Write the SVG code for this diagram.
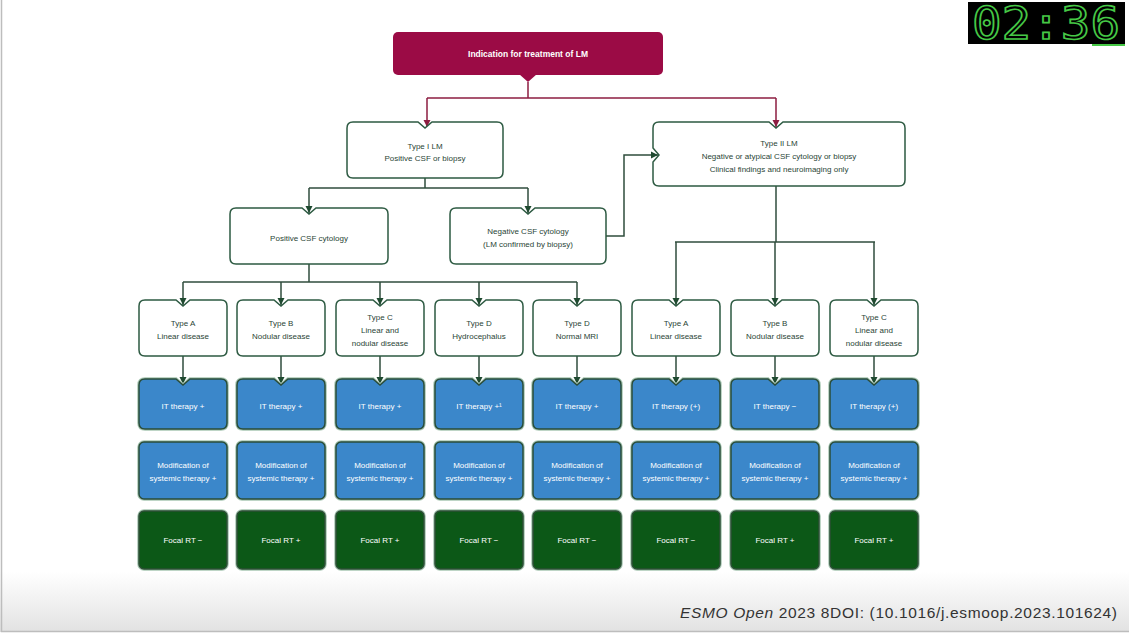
<svg xmlns="http://www.w3.org/2000/svg" xmlns:xlink="http://www.w3.org/1999/xlink" width="1129" height="635" viewBox="0 0 1129 635">
<style>
.t{font-family:"Liberation Sans",Arial,sans-serif;font-size:8px;fill:#2a4536;text-anchor:middle}
.w{font-family:"Liberation Sans",Arial,sans-serif;font-size:8px;fill:#ffffff;text-anchor:middle}
.wb{font-family:"Liberation Sans",Arial,sans-serif;font-size:8.5px;font-weight:bold;fill:#ffffff;text-anchor:middle}
.wh{fill:#ffffff;stroke:#2d5a42;stroke-width:1.5}
.bl{fill:#3b87ca;stroke:#2a4d3a;stroke-width:1.5}
.gr{fill:#0c5817;stroke:#2d4f36;stroke-width:1.5}
.halo{fill:none;stroke:#a9c7b4;stroke-width:3.5}
.c{fill:none;stroke:#2f4d3c;stroke-width:1.5}
.m{fill:none;stroke:#8c1c40;stroke-width:1.5}
</style>
<defs>
<linearGradient id="bot" x1="0" y1="0" x2="0" y2="1">
<stop offset="0" stop-color="#ffffff"/>
<stop offset="1" stop-color="#e2e2e2"/>
</linearGradient>
<marker id="ag" viewBox="0 0 10 10" refX="10" refY="5" markerWidth="5" markerHeight="5" orient="auto" markerUnits="strokeWidth">
<path d="M0,0 L10,5 L0,10 Z" fill="#1f4a30"/>
</marker>
<marker id="am" viewBox="0 0 10 10" refX="10" refY="5" markerWidth="5" markerHeight="5" orient="auto" markerUnits="strokeWidth">
<path d="M0,0 L10,5 L0,10 Z" fill="#8c1c40"/>
</marker>
<path id="n56" d="M6,0 H37 L44,6 L51,0 H82 Q88,0 88,6 V50 Q88,56 82,56 H6 Q0,56 0,50 V6 Q0,0 6,0 Z"/>
<path id="n50" d="M6,0 H37 L44,6 L51,0 H82 Q88,0 88,6 V44 Q88,50 82,50 H6 Q0,50 0,44 V6 Q0,0 6,0 Z"/>
<rect id="r57" x="0" y="0" width="88" height="57" rx="5"/>
<rect id="r58" x="0" y="0" width="88" height="58" rx="5"/>
</defs>

<rect x="0" y="0" width="1129" height="635" fill="#ffffff"/>
<rect x="0" y="572" width="1129" height="60" fill="url(#bot)"/>
<path d="M1.5,0 V631.5 H1129" fill="none" stroke="#bdbdbd" stroke-width="1.5"/>

<g id="timer">
<rect x="968" y="2" width="157" height="42" fill="#000000"/>
<text x="1046" y="39" font-family="DejaVu Sans Mono, monospace" font-size="44" fill="none" stroke="#46c846" stroke-width="1.6" text-anchor="middle" textLength="148" lengthAdjust="spacingAndGlyphs">02:36</text>
<line x1="1092" y1="45" x2="1125" y2="45" stroke="#46c846" stroke-width="2"/>
</g>

<g id="connectors">
<path class="m" d="M528,82 V98"/>
<path class="m" d="M427,98 H776"/>
<path class="m" d="M427,98 V127" marker-end="url(#am)"/>
<path class="m" d="M776,98 V127" marker-end="url(#am)"/>
<path class="c" d="M425,178 V188"/>
<path class="c" d="M309,188 H528"/>
<path class="c" d="M309,188 V213" marker-end="url(#ag)"/>
<path class="c" d="M528,188 V213" marker-end="url(#ag)"/>
<path class="c" d="M606,236 H624 V155 H658" marker-end="url(#ag)"/>
<path class="c" d="M776,186 V242"/>
<path class="c" d="M675,242 H875"/>
<path class="c" d="M676,242 V305" marker-end="url(#ag)"/>
<path class="c" d="M775,242 V305" marker-end="url(#ag)"/>
<path class="c" d="M874,242 V305" marker-end="url(#ag)"/>
<path class="c" d="M309,264 V282"/>
<path class="c" d="M183,282 H577"/>
<path class="c" d="M183,282 V305" marker-end="url(#ag)"/>
<path class="c" d="M281,282 V305" marker-end="url(#ag)"/>
<path class="c" d="M380,282 V305" marker-end="url(#ag)"/>
<path class="c" d="M479,282 V305" marker-end="url(#ag)"/>
<path class="c" d="M577,282 V305" marker-end="url(#ag)"/>
<path class="c" d="M183,356 V384" marker-end="url(#ag)"/>
<path class="c" d="M281,356 V384" marker-end="url(#ag)"/>
<path class="c" d="M380,356 V384" marker-end="url(#ag)"/>
<path class="c" d="M479,356 V384" marker-end="url(#ag)"/>
<path class="c" d="M577,356 V384" marker-end="url(#ag)"/>
<path class="c" d="M676,356 V384" marker-end="url(#ag)"/>
<path class="c" d="M775,356 V384" marker-end="url(#ag)"/>
<path class="c" d="M874,356 V384" marker-end="url(#ag)"/>
</g>

<g id="indication">
<rect x="393" y="32" width="270" height="43" rx="5" fill="#9b0b45"/>
<path d="M519,74 L528,82 L537,74 Z" fill="#9b0b45"/>
<text class="wb" x="528" y="57">Indication for treatment of LM</text>
</g>

<g id="type1">
<path class="wh" d="M353,122 H418 L425,128 L432,122 H497 Q503,122 503,128 V172 Q503,178 497,178 H353 Q347,178 347,172 V128 Q347,122 353,122 Z"/>
<text class="t" x="425" y="149">Type I LM</text>
<text class="t" x="425" y="161">Positive CSF or biopsy</text>
</g>

<g id="type2">
<path class="wh" d="M659,122 H769 L776,128 L783,122 H899 Q905,122 905,128 V180 Q905,186 899,186 H659 Q653,186 653,180 V162 L659,155 L653,148 V128 Q653,122 659,122 Z"/>
<text class="t" x="779" y="146">Type II LM</text>
<text class="t" x="779" y="159">Negative or atypical CSF cytology or biopsy</text>
<text class="t" x="779" y="172">Clinical findings and neuroimaging only</text>
</g>

<g id="positive">
<path class="wh" d="M236,208 H302 L309,214 L316,208 H382 Q388,208 388,214 V258 Q388,264 382,264 H236 Q230,264 230,258 V214 Q230,208 236,208 Z"/>
<text class="t" x="309" y="241">Positive CSF cytology</text>
</g>

<g id="negative">
<path class="wh" d="M456,208 H521 L528,214 L535,208 H600 Q606,208 606,214 V258 Q606,264 600,264 H456 Q450,264 450,258 V214 Q450,208 456,208 Z"/>
<text class="t" x="528" y="234">Negative CSF cytology</text>
<text class="t" x="528" y="247">(LM confirmed by biopsy)</text>
</g>

<g id="typeA1"><use href="#n56" x="139" y="300" class="wh"/><text class="t" x="183" y="326">Type A</text><text class="t" x="183" y="339">Linear disease</text></g>
<g id="typeB1"><use href="#n56" x="237" y="300" class="wh"/><text class="t" x="281" y="326">Type B</text><text class="t" x="281" y="339">Nodular disease</text></g>
<g id="typeC1"><use href="#n56" x="336" y="300" class="wh"/><text class="t" x="380" y="320">Type C</text><text class="t" x="380" y="333">Linear and</text><text class="t" x="380" y="346">nodular disease</text></g>
<g id="typeD1"><use href="#n56" x="435" y="300" class="wh"/><text class="t" x="479" y="326">Type D</text><text class="t" x="479" y="339">Hydrocephalus</text></g>
<g id="typeD2"><use href="#n56" x="533" y="300" class="wh"/><text class="t" x="577" y="326">Type D</text><text class="t" x="577" y="339">Normal MRI</text></g>
<g id="typeA2"><use href="#n56" x="632" y="300" class="wh"/><text class="t" x="676" y="326">Type A</text><text class="t" x="676" y="339">Linear disease</text></g>
<g id="typeB2"><use href="#n56" x="731" y="300" class="wh"/><text class="t" x="775" y="326">Type B</text><text class="t" x="775" y="339">Nodular disease</text></g>
<g id="typeC2"><use href="#n56" x="830" y="300" class="wh"/><text class="t" x="874" y="320">Type C</text><text class="t" x="874" y="333">Linear and</text><text class="t" x="874" y="346">nodular disease</text></g>

<g id="it1"><use href="#n50" x="139" y="379" class="halo"/><use href="#n50" x="139" y="379" class="bl"/><text class="w" x="183" y="409">IT therapy +</text></g>
<g id="it2"><use href="#n50" x="237" y="379" class="halo"/><use href="#n50" x="237" y="379" class="bl"/><text class="w" x="281" y="409">IT therapy +</text></g>
<g id="it3"><use href="#n50" x="336" y="379" class="halo"/><use href="#n50" x="336" y="379" class="bl"/><text class="w" x="380" y="409">IT therapy +</text></g>
<g id="it4"><use href="#n50" x="435" y="379" class="halo"/><use href="#n50" x="435" y="379" class="bl"/><text class="w" x="479" y="409">IT therapy +¹</text></g>
<g id="it5"><use href="#n50" x="533" y="379" class="halo"/><use href="#n50" x="533" y="379" class="bl"/><text class="w" x="577" y="409">IT therapy +</text></g>
<g id="it6"><use href="#n50" x="632" y="379" class="halo"/><use href="#n50" x="632" y="379" class="bl"/><text class="w" x="676" y="409">IT therapy (+)</text></g>
<g id="it7"><use href="#n50" x="731" y="379" class="halo"/><use href="#n50" x="731" y="379" class="bl"/><text class="w" x="775" y="409">IT therapy −</text></g>
<g id="it8"><use href="#n50" x="830" y="379" class="halo"/><use href="#n50" x="830" y="379" class="bl"/><text class="w" x="874" y="409">IT therapy (+)</text></g>

<g id="mod1"><use href="#r57" x="139" y="442" class="halo"/><use href="#r57" x="139" y="442" class="bl"/><text class="w" x="183" y="468">Modification of</text><text class="w" x="183" y="481">systemic therapy +</text></g>
<g id="mod2"><use href="#r57" x="237" y="442" class="halo"/><use href="#r57" x="237" y="442" class="bl"/><text class="w" x="281" y="468">Modification of</text><text class="w" x="281" y="481">systemic therapy +</text></g>
<g id="mod3"><use href="#r57" x="336" y="442" class="halo"/><use href="#r57" x="336" y="442" class="bl"/><text class="w" x="380" y="468">Modification of</text><text class="w" x="380" y="481">systemic therapy +</text></g>
<g id="mod4"><use href="#r57" x="435" y="442" class="halo"/><use href="#r57" x="435" y="442" class="bl"/><text class="w" x="479" y="468">Modification of</text><text class="w" x="479" y="481">systemic therapy +</text></g>
<g id="mod5"><use href="#r57" x="533" y="442" class="halo"/><use href="#r57" x="533" y="442" class="bl"/><text class="w" x="577" y="468">Modification of</text><text class="w" x="577" y="481">systemic therapy +</text></g>
<g id="mod6"><use href="#r57" x="632" y="442" class="halo"/><use href="#r57" x="632" y="442" class="bl"/><text class="w" x="676" y="468">Modification of</text><text class="w" x="676" y="481">systemic therapy +</text></g>
<g id="mod7"><use href="#r57" x="731" y="442" class="halo"/><use href="#r57" x="731" y="442" class="bl"/><text class="w" x="775" y="468">Modification of</text><text class="w" x="775" y="481">systemic therapy +</text></g>
<g id="mod8"><use href="#r57" x="830" y="442" class="halo"/><use href="#r57" x="830" y="442" class="bl"/><text class="w" x="874" y="468">Modification of</text><text class="w" x="874" y="481">systemic therapy +</text></g>

<g id="rt1"><use href="#r58" x="139" y="511" class="halo"/><use href="#r58" x="139" y="511" class="gr"/><text class="w" x="183" y="543">Focal RT −</text></g>
<g id="rt2"><use href="#r58" x="237" y="511" class="halo"/><use href="#r58" x="237" y="511" class="gr"/><text class="w" x="281" y="543">Focal RT +</text></g>
<g id="rt3"><use href="#r58" x="336" y="511" class="halo"/><use href="#r58" x="336" y="511" class="gr"/><text class="w" x="380" y="543">Focal RT +</text></g>
<g id="rt4"><use href="#r58" x="435" y="511" class="halo"/><use href="#r58" x="435" y="511" class="gr"/><text class="w" x="479" y="543">Focal RT −</text></g>
<g id="rt5"><use href="#r58" x="533" y="511" class="halo"/><use href="#r58" x="533" y="511" class="gr"/><text class="w" x="577" y="543">Focal RT −</text></g>
<g id="rt6"><use href="#r58" x="632" y="511" class="halo"/><use href="#r58" x="632" y="511" class="gr"/><text class="w" x="676" y="543">Focal RT −</text></g>
<g id="rt7"><use href="#r58" x="731" y="511" class="halo"/><use href="#r58" x="731" y="511" class="gr"/><text class="w" x="775" y="543">Focal RT +</text></g>
<g id="rt8"><use href="#r58" x="830" y="511" class="halo"/><use href="#r58" x="830" y="511" class="gr"/><text class="w" x="874" y="543">Focal RT +</text></g>

<text x="680" y="618" font-family="Liberation Sans, Arial, sans-serif" font-size="15.5" fill="#333333" textLength="437" lengthAdjust="spacing"><tspan font-style="italic">ESMO Open</tspan> 2023 8DOI: (10.1016/j.esmoop.2023.101624)</text>
</svg>
